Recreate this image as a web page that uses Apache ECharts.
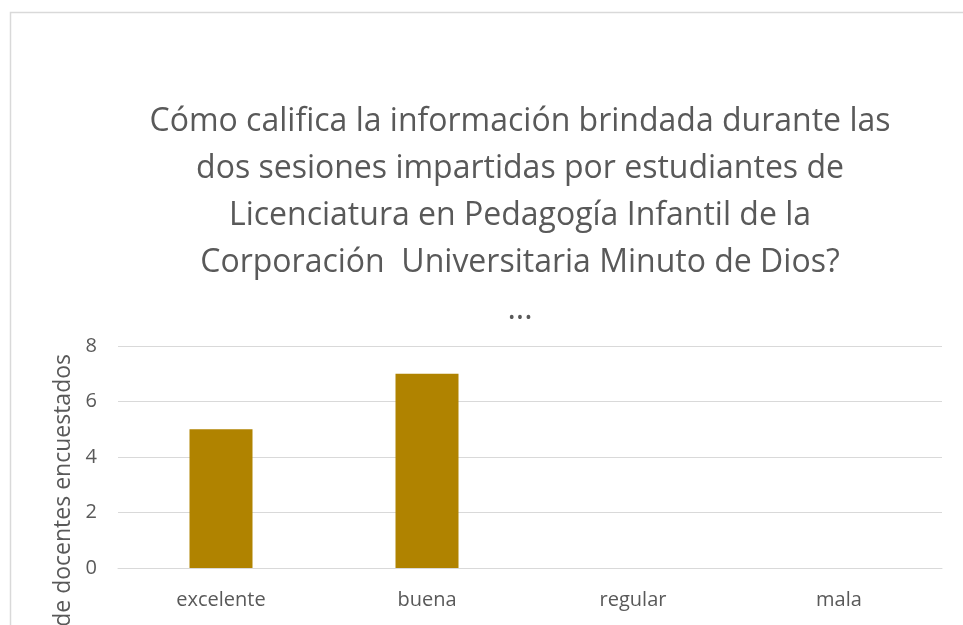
<!DOCTYPE html>
<html>
<head>
<meta charset="utf-8">
<script src="https://cdn.jsdelivr.net/npm/echarts@6/dist/echarts.min.js"></script>
<style>
  html, body { margin: 0; padding: 0; background: #fff; }
  #main { width: 963px; height: 625px; }
</style>
</head>
<body>
<div id="main"></div>
<script>
// datos
const categorias = ["excelente", "buena", "regular", "mala"];
const valores = [5, 7, 0, 0];
const ticksY = [0, 2, 4, 6, 8];
const titulo = [
  "Cómo califica la información brindada durante las",
  "dos sesiones impartidas por estudiantes de",
  "Licenciatura en Pedagogía Infantil de la",
  "Corporación  Universitaria Minuto de Dios?",
  "..."
];
const nombreEje = "Número de docentes encuestados";

const fuente = "'Open Sans', sans-serif";
let chart = echarts.init(document.getElementById("main"));

chart.setOption({
  animation: false,
  backgroundColor: "#fff",
  title: {
    text: titulo.join("\n"),
    left: 515,
    top: 93,
    textAlign: "center",
    textStyle: {
      fontFamily: fuente,
      fontSize: 32,
      fontWeight: "normal",
      color: "#595959",
      lineHeight: 47
    }
  },
  graphic: [
    {
      type: "rect",
      shape: { x: 10.5, y: 12.5, width: 1000, height: 700 },
      style: { fill: "none", stroke: "#d9d9d9", lineWidth: 1.5 },
      silent: true
    },
    {
      type: "text",
      x: 63,
      y: 354,
      rotation: Math.PI / 2,
      style: {
        text: nombreEje,
        fontFamily: fuente,
        fontSize: 23,
        fill: "#595959",
        textAlign: "right",
        textVerticalAlign: "middle"
      }
    }
  ],
  grid: { left: 118, right: 21, top: 346, bottom: 57 },
  xAxis: {
    type: "category",
    data: categorias,
    axisLine: { lineStyle: { color: "#d9d9d9" } },
    axisTick: { show: false },
    axisLabel: { color: "#595959", fontFamily: fuente, fontSize: 20, margin: 22 }
  },
  yAxis: {
    type: "value",
    min: ticksY[0],
    max: ticksY[ticksY.length - 1],
    interval: 2,
    axisLine: { show: false },
    axisTick: { show: false },
    splitLine: { lineStyle: { color: "#d9d9d9" } },
    axisLabel: { color: "#595959", fontFamily: fuente, fontSize: 20, margin: 21 }
  },
  series: [{
    type: "bar",
    data: valores,
    barWidth: 63,
    itemStyle: { color: "#b08300" }
  }]
});
</script>
</body>
</html>
